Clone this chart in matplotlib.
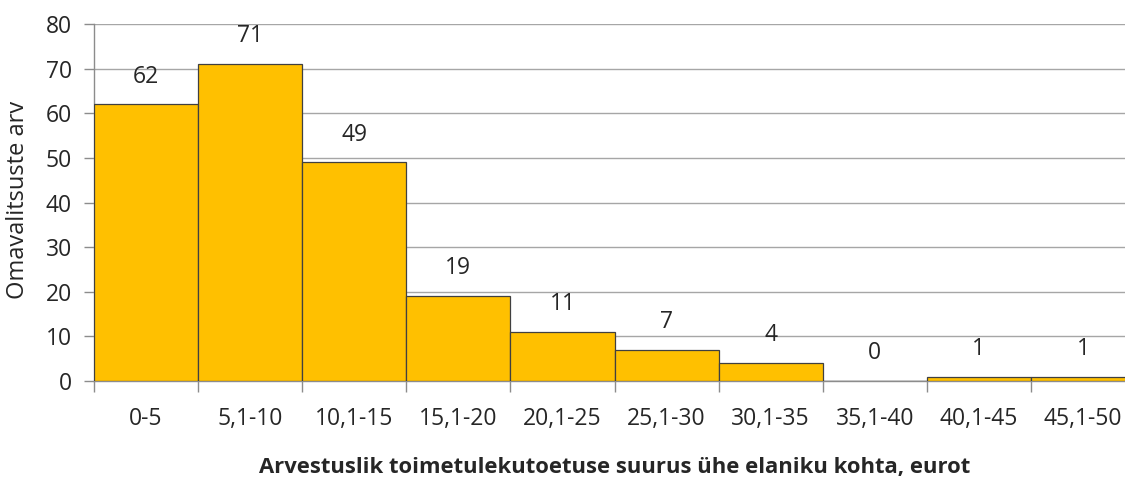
import matplotlib
matplotlib.use("Agg")
import matplotlib.pyplot as plt

categories = ["0-5", "5,1-10", "10,1-15", "15,1-20", "20,1-25", "25,1-30",
              "30,1-35", "35,1-40", "40,1-45", "45,1-50"]
values = [62, 71, 49, 19, 11, 7, 4, 0, 1, 1]
yticks = [0, 10, 20, 30, 40, 50, 60, 70, 80]

plt.rcParams['font.family'] = ['Open Sans', 'DejaVu Sans']

W, H = 1125, 484
fig = plt.figure(figsize=(W/100, H/100), dpi=100)
ax = fig.add_axes([94/W, (H-381)/H, (1135-94)/W, (381-24)/H])

FS = 16.5
TC = "#262626"

x = list(range(len(values)))
ax.bar(x, values, width=1.0, color="#FFC000", edgecolor="#404040", linewidth=0.9, zorder=3)
ax.set_xlim(-0.5, len(values)-0.5)
ax.set_ylim(0, 80)
ax.set_yticks(yticks)
ax.yaxis.grid(True, color="#a6a6a6", linewidth=1.0, zorder=0)
ax.set_axisbelow(True)

ax.set_xticks([i - 0.5 for i in range(len(values)+1)])
ax.set_xticklabels([])
ax.set_xticks(x, minor=True)
ax.set_xticklabels(categories, minor=True, fontsize=FS, color=TC)
ax.tick_params(axis='x', which='minor', length=0, pad=19)
ax.tick_params(axis='x', which='major', length=8, color="#8c8c8c", width=1)
ax.tick_params(axis='y', length=7, color="#8c8c8c", width=1, labelsize=FS, labelcolor=TC, pad=9)

for s in ["top", "right"]:
    ax.spines[s].set_visible(False)
for s in ["left", "bottom"]:
    ax.spines[s].set_color("#8c8c8c")
    ax.spines[s].set_linewidth(1)

for xi, v in zip(x, values):
    ax.annotate(str(v), (xi, v), xytext=(0, 20), textcoords="offset points",
                ha="center", va="center", fontsize=FS, color=TC)

fig.text(18/W, 1-200/H, "Omavalitsuste arv", rotation=90, ha="center", va="center",
         fontsize=17, color=TC)
fig.text(615/W, 1-468/H, "Arvestuslik toimetulekutoetuse suurus ühe elaniku kohta, eurot",
         ha="center", va="center", fontsize=15.8, fontweight="bold", color=TC)

fig.savefig("out.png", dpi=100)
